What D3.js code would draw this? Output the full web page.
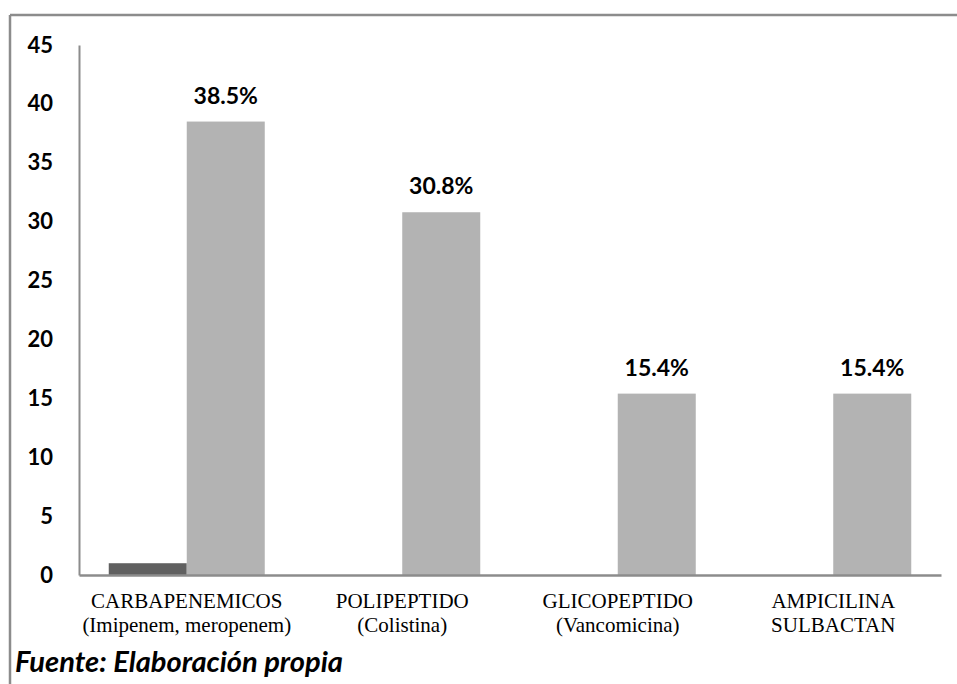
<!DOCTYPE html>
<html>
<head>
<meta charset="utf-8">
<script src="https://cdn.jsdelivr.net/npm/d3@7"></script>
<style>
  html, body { margin: 0; padding: 0; background: #ffffff; }
  svg { display: block; }
</style>
</head>
<body>
<svg id="chart" width="957" height="684"></svg>
<script>
// Antibiotic groups (two-line category labels)
const categories = [
  ["CARBAPENEMICOS", "(Imipenem, meropenem)"],
  ["POLIPEPTIDO", "(Colistina)"],
  ["GLICOPEPTIDO", "(Vancomicina)"],
  ["AMPICILINA", "SULBACTAN"]
];
// Two series per group
const seriesNames = ["Serie 1", "Serie 2"];
const series1 = [1, 0, 0, 0];
const series2 = [38.5, 30.8, 15.4, 15.4];
// Data labels shown above the second series
const valueLabels = ["38.5%", "30.8%", "15.4%", "15.4%"];
const yTicks = [0, 5, 10, 15, 20, 25, 30, 35, 40, 45];
const footnote = "Fuente: Elaboración propia";

const svg = d3.select("#chart");
const W = 957, H = 684;
const plot = { left: 79, right: 941, top: 45, bottom: 575 };
const colors = ["#606060", "#b3b3b3"];
const axisColor = "#8c8c8c";

// Outer frame (top and left edges)
svg.append("line").attr("x1", 10).attr("x2", W).attr("y1", 15).attr("y2", 15)
  .attr("stroke", axisColor).attr("stroke-width", 2.5);
svg.append("line").attr("x1", 10).attr("x2", 10).attr("y1", 15).attr("y2", H)
  .attr("stroke", axisColor).attr("stroke-width", 2.5);

const x0 = d3.scaleBand()
  .domain(d3.range(categories.length))
  .range([plot.left, plot.right])
  .padding(0);
const groupWidth = 156;
const x1 = d3.scaleBand()
  .domain(seriesNames)
  .range([(x0.bandwidth() - groupWidth) / 2, (x0.bandwidth() + groupWidth) / 2])
  .padding(0);
const y = d3.scaleLinear().domain([0, 45]).range([plot.bottom, plot.top]);

const rows = categories.map((c, i) => ({
  i,
  values: [
    { key: seriesNames[0], value: series1[i] },
    { key: seriesNames[1], value: series2[i] }
  ]
}));

// Bars
const groups = svg.append("g").selectAll("g").data(rows).join("g")
  .attr("transform", d => `translate(${x0(d.i)},0)`);
groups.selectAll("rect").data(d => d.values.filter(v => v.value > 0)).join("rect")
  .attr("x", v => x1(v.key))
  .attr("width", x1.bandwidth())
  .attr("y", v => y(v.value))
  .attr("height", v => y(0) - y(v.value))
  .attr("fill", v => colors[seriesNames.indexOf(v.key)]);

// Value labels above the second series
svg.append("g").selectAll("text").data(rows).join("text")
  .attr("x", d => x0(d.i) + x1(seriesNames[1]) + x1.bandwidth() / 2)
  .attr("y", d => y(series2[d.i]) - 18)
  .attr("text-anchor", "middle")
  .attr("font-family", "Lato, 'Open Sans', sans-serif")
  .attr("font-weight", "bold")
  .attr("font-size", 23)
  .attr("fill", "#000")
  .text(d => valueLabels[d.i]);

// Y axis
const yAxis = svg.append("g")
  .attr("transform", `translate(${plot.left},0)`)
  .call(d3.axisLeft(y).tickValues(yTicks).tickSizeInner(0).tickSizeOuter(0).tickPadding(26));
yAxis.select(".domain").attr("stroke", axisColor).attr("stroke-width", 2);
yAxis.selectAll("text")
  .attr("font-family", "Lato, 'Open Sans', sans-serif")
  .attr("font-weight", "bold")
  .attr("font-size", 22)
  .attr("fill", "#000");

// X axis
const xAxis = svg.append("g")
  .attr("transform", `translate(0,${plot.bottom})`)
  .call(d3.axisBottom(x0).tickSizeInner(0).tickSizeOuter(0).tickFormat(() => ""));
xAxis.select(".domain").attr("stroke", axisColor).attr("stroke-width", 2.5);
xAxis.selectAll(".tick text").each(function(i) {
  const t = d3.select(this)
    .attr("font-family", "'Liberation Serif', 'Times New Roman', serif")
    .attr("font-size", 21)
    .attr("fill", "#000")
    .attr("y", 0)
    .attr("dy", null);
  categories[i].forEach((line, k) => {
    t.append("tspan").attr("x", 0).attr("y", 33 + k * 24).text(line);
  });
});

// Source note
const note = svg.append("text")
  .attr("x", 15)
  .attr("y", 672)
  .attr("font-family", "Lato, 'Open Sans', sans-serif")
  .attr("font-weight", "bold")
  .attr("font-style", "italic")
  .attr("font-size", 25)
  .attr("fill", "#000")
  .text(footnote);
const targetW = 328;
const w = note.node().getComputedTextLength();
if (w > 0) note.attr("font-size", 25 * targetW / w);
</script>
</body>
</html>
